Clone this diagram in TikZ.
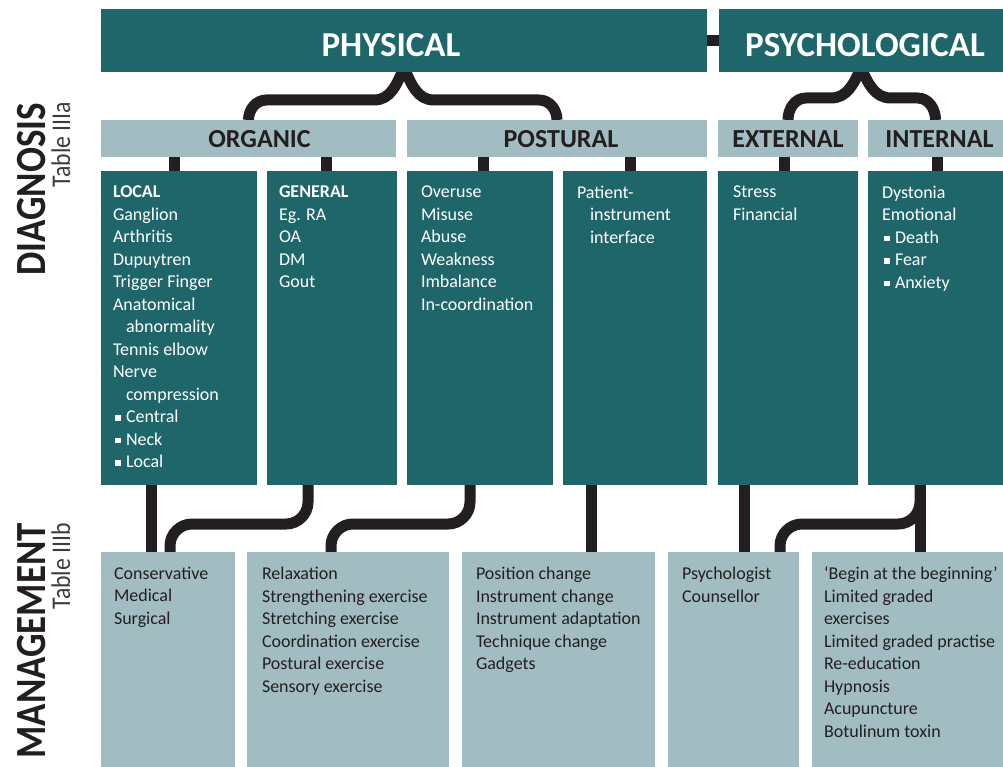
\documentclass[tikz,border=0pt]{standalone}
\usepackage{fontspec}
\setmainfont{Carlito}
\usetikzlibrary{positioning, calc, backgrounds}

\definecolor{darkteal}{HTML}{1F666A}
\definecolor{paleteal}{HTML}{A1BDC2}
\definecolor{inkblack}{HTML}{231F20}
\definecolor{tablegrey}{HTML}{3C3C3C}

\newcommand{\sqb}{\hspace*{2pt}\rule[2pt]{5.5pt}{5.5pt}\hspace{5.5pt}}
\newcommand{\ind}{\hspace*{13pt}}

\begin{document}
\begin{tikzpicture}[
        x=1pt, y=1pt,
        every node/.style={inner sep=0pt, outer sep=0pt},
        dark/.style={fill=darkteal, anchor=north west},
        pale/.style={fill=paleteal, anchor=north west},
        head/.style={font=\bfseries\fontsize{35}{40}\selectfont, text=white, anchor=base},
        subhead/.style={font=\bfseries\fontsize{26}{30}\selectfont, text=inkblack, anchor=base},
        list/.style={font=\fontsize{18}{22.5}\selectfont, align=left, execute at begin node=\strut},
        side/.style={font=\bfseries\fontsize{43}{48}\selectfont, text=inkblack, rotate=90, anchor=base east},
        table/.style={font=\fontsize{27}{30}\selectfont, text=tablegrey, rotate=90, anchor=base east},
        link/.style={draw=inkblack, line width=11pt}
      ]
      \useasboundingbox (0,0) rectangle (1003,-767);

      % Side titles
      \node[side] (diag) at (45,-103) {\scalebox{0.86}[1]{DIAGNOSIS}};
      \node[table] (tab-a) at (70,-102) {\scalebox{0.88}[1]{Table IIIa}};
      \node[side] (mgmt) at (45,-523) {\scalebox{0.86}[1]{MANAGEMENT}};
      \node[table] (tab-b) at (70,-523) {\scalebox{0.88}[1]{Table IIIb}};

      % Top row
      \node[dark, minimum width=606pt, minimum height=63pt] (phys) at (101,-9) {};
      \node[dark, minimum width=284pt, minimum height=63pt, right=12pt of phys] (psych) {};
      \node[head] (phys-t) at ([xshift=-13pt, yshift=-16.5pt]phys.center) {PHYSICAL};
      \node[head] (psych-t) at ([xshift=4pt, yshift=-16.5pt]psych.center) {PSYCHOLOGICAL};

      % Second row
      \node[pale, minimum width=295pt, minimum height=37pt] (org) at (101,-120) {};
      \node[pale, minimum width=300pt, minimum height=37pt, right=11pt of org] (post) {};
      \node[pale, minimum width=140pt, minimum height=37pt, right=11pt of post] (ext) {};
      \node[pale, minimum width=135pt, minimum height=37pt, right=10pt of ext] (int) {};
      \node[subhead] (org-t) at ([xshift=11pt, yshift=-9.5pt]org.center) {ORGANIC};
      \node[subhead] (post-t) at ([xshift=4pt, yshift=-9.5pt]post.center) {POSTURAL};
      \node[subhead] (ext-t) at ([yshift=-9.5pt]ext.center) {EXTERNAL};
      \node[subhead] (int-t) at ([xshift=4pt, yshift=-9.5pt]int.center) {INTERNAL};

      % Diagnosis boxes
      \node[dark, minimum width=156pt, minimum height=314pt] (loc) at (101,-171) {};
      \node[dark, minimum width=130pt, minimum height=314pt, right=10pt of loc] (gen) {};
      \node[dark, minimum width=146pt, minimum height=314pt, right=10pt of gen] (use) {};
      \node[dark, minimum width=144pt, minimum height=314pt, right=10pt of use] (pii) {};
      \node[dark, minimum width=140pt, minimum height=314pt, right=11pt of pii] (str) {};
      \node[dark, minimum width=135pt, minimum height=314pt, right=10pt of str] (dys) {};

      \node[list, text=white, below right=15pt and 12pt of loc.north west] (loc-t)
        {\textbf{LOCAL}\\Ganglion\\Arthritis\\Dupuytren\\Trigger Finger\\Anatomical\\\ind abnormality\\Tennis elbow\\Nerve\\\ind compression\\\sqb Central\\\sqb Neck\\\sqb Local};
      \node[list, text=white, below right=15pt and 12pt of gen.north west] (gen-t)
        {\textbf{GENERAL}\\Eg. RA\\OA\\DM\\Gout};
      \node[list, text=white, below right=15pt and 14pt of use.north west] (use-t)
        {Overuse\\Misuse\\Abuse\\Weakness\\Imbalance\\In-coordination};
      \node[list, text=white, below right=15pt and 14pt of pii.north west] (pii-t)
        {Patient-\\\ind instrument\\\ind interface};
      \node[list, text=white, below right=15pt and 15pt of str.north west] (str-t)
        {Stress\\Financial};
      \node[list, text=white, below right=15pt and 14pt of dys.north west] (dys-t)
        {Dystonia\\Emotional\\\sqb Death\\\sqb Fear\\\sqb Anxiety};

      % Management boxes
      \node[pale, minimum width=134pt, minimum height=215pt] (con) at (101,-552) {};
      \node[pale, minimum width=202pt, minimum height=215pt, right=12pt of con] (rel) {};
      \node[pale, minimum width=193pt, minimum height=215pt, right=13pt of rel] (pos) {};
      \node[pale, minimum width=131pt, minimum height=215pt, right=13pt of pos] (psy) {};
      \node[pale, minimum width=191pt, minimum height=215pt, right=13pt of psy] (beg) {};

      \node[list, text=inkblack, below right=15pt and 13pt of con.north west] (con-t)
        {Conservative\\Medical\\Surgical};
      \node[list, text=inkblack, below right=15pt and 15pt of rel.north west] (rel-t)
        {Relaxation\\Strengthening exercise\\Stretching exercise\\Coordination exercise\\Postural exercise\\Sensory exercise};
      \node[list, text=inkblack, below right=15pt and 14pt of pos.north west] (pos-t)
        {Position change\\Instrument change\\Instrument adaptation\\Technique change\\Gadgets};
      \node[list, text=inkblack, below right=15pt and 14pt of psy.north west] (psy-t)
        {Psychologist\\Counsellor};
      \node[list, text=inkblack, below right=15pt and 12pt of beg.north west] (beg-t)
        {`Begin at the beginning'\\Limited graded\\exercises\\Limited graded practise\\Re-education\\Hypnosis\\Acupuncture\\Botulinum toxin};

      % Connectors
      \begin{scope}[on background layer]
        \draw[link] (phys.east) -- (psych.west);

        \coordinate (pb) at ($(phys.south)+(0,-28)$);
        \draw[link] ([yshift=4pt]phys.south) to[out=-115, in=0] ([xshift=-30pt]pb)
          -- ([xshift=18pt]pb -| org.north) to[out=180, in=90] (org.north);
        \draw[link] ([yshift=4pt]phys.south) to[out=-65, in=180] ([xshift=30pt]pb)
          -- ([xshift=-18pt]pb -| post.north) to[out=0, in=90] (post.north);

        \coordinate (sb) at ($(psych.south)+(0,-26)$);
        \draw[link] ([yshift=4pt]psych.south) to[out=-115, in=0] ([xshift=-30pt]sb)
          -- ([xshift=18pt]sb -| ext.north) to[out=180, in=90] (ext.north);
        \draw[link] ([yshift=4pt]psych.south) to[out=-65, in=180] ([xshift=30pt]sb)
          -- ([xshift=-18pt]sb -| int.north) to[out=0, in=90] (int.north);

        \foreach \a/\b/\s in {org/loc/-5, org/gen/-6, post/use/3, post/pii/-5, ext/str/-4, int/dys/1.5}
          \draw[link] ([xshift=\s pt]\b.north) -- ([xshift=\s pt]\b.north |- \a.south);

        \draw[link] ([xshift=-28pt]loc.south) -- ([xshift=-28pt]loc.south |- con.north);
        \draw[link] ([xshift=-44pt]pii.south) -- ([xshift=-44pt]pii.south |- pos.north);
        \draw[link] ([xshift=-44pt]str.south) -- ([xshift=-44pt]str.south |- psy.north);
        \draw[link] ([xshift=-15.5pt]dys.south) -- ([xshift=-15.5pt]dys.south |- beg.north);

        \draw[link, rounded corners=22pt] ([xshift=-24pt]gen.south) -- ++(0,-39) -| ([xshift=2pt]con.north);
        \draw[link, rounded corners=22pt] ([xshift=-10pt]use.south) -- ++(0,-39) -| ([xshift=-17pt]rel.north);
        \draw[link, rounded corners=22pt] ([xshift=-15.5pt]dys.south) -- ++(0,-39) -| ([xshift=46.5pt]psy.north);
      \end{scope}

    \end{tikzpicture}
\end{document}
